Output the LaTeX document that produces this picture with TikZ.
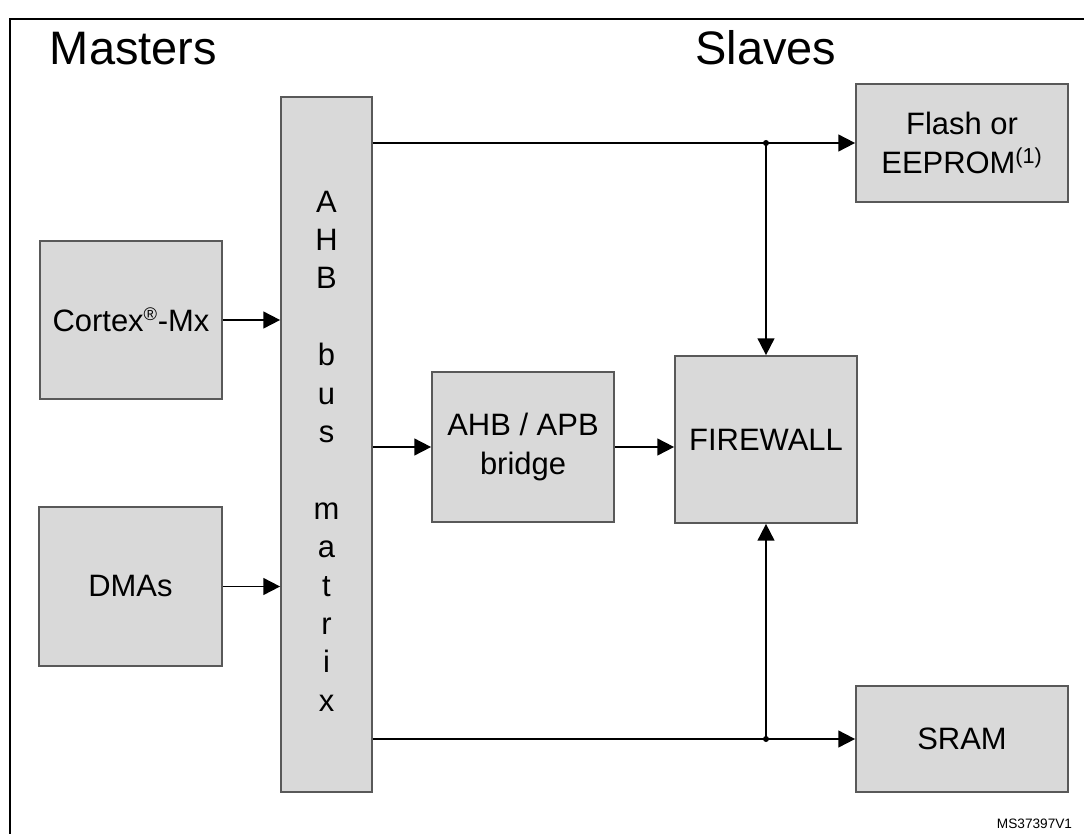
\documentclass[tikz,border=0pt]{standalone}
\usepackage{fontspec}
\setmainfont{Liberation Sans}
\usetikzlibrary{arrows.meta}
\definecolor{boxfill}{HTML}{D9D9D9}
\definecolor{boxline}{HTML}{595959}
\tikzset{
 blk/.style={draw=boxline,fill=boxfill,line width=1.2pt,align=center,inner sep=0pt,
  font=\fontsize{22}{28}\selectfont},
 link/.style={line width=1.3pt,-{Triangle[length=0.42cm,width=0.42cm]}},
 title/.style={font=\fontsize{33.4}{40}\selectfont}
}
\begin{document}
\begin{tikzpicture}[x=0.025cm,y=-0.025cm]
\useasboundingbox (0,0) rectangle (1084,834);
\clip (0,0) rectangle (1084,834);
\draw[line width=1.4pt] (10,19) rectangle (1110,860);
\node[title,anchor=base west] (masters) at (45,65) {Masters};
\node[title,anchor=base] (slaves) at (766,65) {Slaves};
% masters
\node[blk,minimum width=4.55cm,minimum height=3.95cm] (cortex) at (131,320) {Cortex\textsuperscript{\fontsize{13}{13}\selectfont\textregistered}-Mx};
\node[blk,minimum width=4.575cm,minimum height=3.975cm] (dmas) at (130.5,586.5) {DMAs};
% bus
\node[blk,minimum width=2.275cm,minimum height=17.375cm] (ahb) at (326.5,444.5) {};
\node[align=center,font=\fontsize{22}{27.3}\selectfont] (ahbtext) at (326.5,451)
 {A\\H\\B\\~\\b\\u\\s\\~\\m\\a\\t\\r\\i\\x};
% slaves
\node[blk,minimum width=4.55cm,minimum height=3.75cm] (bridge) at (523,447) {AHB / APB\\bridge};
\node[blk,minimum width=4.55cm,minimum height=4.175cm] (firewall) at (766,439.5) {FIREWALL};
\node[blk,minimum width=5.3cm,minimum height=2.95cm] (flash) at (962,143) {Flash or\\EEPROM\textsuperscript{(1)}};
\node[blk,minimum width=5.3cm,minimum height=2.65cm] (sram) at (962,739) {SRAM};
\coordinate (topdot) at (flash -| firewall);
\coordinate (botdot) at (sram -| firewall);
\draw[link] (cortex) -- (cortex -| ahb.west);
\draw[link] (dmas) -- (dmas -| ahb.west);
\draw[link] (bridge -| ahb.east) -- (bridge);
\draw[link] (bridge) -- (bridge -| firewall.west);
\draw[link] (flash -| ahb.east) -- (flash);
\draw[link] (sram -| ahb.east) -- (sram);
\draw[link] (topdot) -- (firewall);
\draw[link] (botdot) -- (firewall);
\fill (topdot) circle (0.075cm) (botdot) circle (0.075cm);
\node[anchor=base east,font=\fontsize{9.7}{12}\selectfont] (ref) at (1077,828) {MS37397V1};
\end{tikzpicture}
\end{document}
